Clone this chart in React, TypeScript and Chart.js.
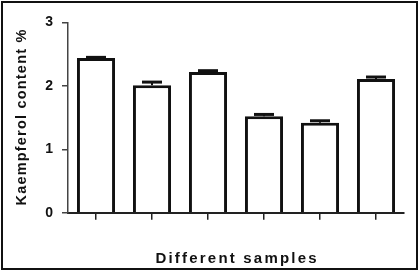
import React, { useEffect, useRef } from "react";
import { Chart, registerables } from "chart.js";

Chart.register(...registerables);

const categories = ["S1", "S2", "S3", "S4", "S5", "S6"];
const values = [2.44, 2.01, 2.22, 1.52, 1.42, 2.11];
const errors = [0.01, 0.05, 0.02, 0.03, 0.03, 0.03];
const yTicks = [0, 1, 2, 3];
const yTitle = "Kaempferol content %";
const xTitle = "Different samples";

const FONT = '"Liberation Sans", Arial, sans-serif';

export default function App() {
  const ref = useRef<HTMLCanvasElement | null>(null);

  useEffect(() => {
    if (!ref.current) return;
    const errorBars = {
      id: "errorBars",
      afterDatasetsDraw(chart: any) {
        const ctx = chart.ctx;
        const meta = chart.getDatasetMeta(0);
        const ys = chart.scales.y;
        ctx.save();
        ctx.strokeStyle = "#111";
        meta.data.forEach((bar: any, i: number) => {
          const yb = ys.getPixelForValue(values[i]);
          const yt = ys.getPixelForValue(values[i] + errors[i]);
          ctx.lineWidth = 2;
          ctx.beginPath();
          ctx.moveTo(bar.x, yb);
          ctx.lineTo(bar.x, yt);
          ctx.stroke();
          ctx.lineWidth = 3;
          ctx.beginPath();
          ctx.moveTo(bar.x - 10, yt);
          ctx.lineTo(bar.x + 10, yt);
          ctx.stroke();
        });
        ctx.restore();
      },
    };
    const decor = {
      id: "decor",
      afterDraw(chart: any) {
        const ctx = chart.ctx;
        const area = chart.chartArea;
        ctx.save();
        ctx.strokeStyle = "#111";
        ctx.lineWidth = 2;
        ctx.strokeRect(2, 2, 415, 267);
        ctx.fillStyle = "#111";
        // x title
        ctx.font = `bold 15px ${FONT}`;
        (ctx as any).letterSpacing = "2.2px";
        ctx.textAlign = "center";
        ctx.textBaseline = "alphabetic";
        ctx.fillText(xTitle, (area.left + area.right) / 2 + 1.1, 262.5);
        // y title
        ctx.font = `bold 14.5px ${FONT}`;
        (ctx as any).letterSpacing = "1.2px";
        ctx.translate(22, (area.top + area.bottom) / 2);
        ctx.rotate(-Math.PI / 2);
        ctx.textBaseline = "middle";
        ctx.fillText(yTitle, 0.6, 0);
        ctx.restore();
      },
    };
    const chart = new Chart(ref.current, {
      type: "bar",
      data: {
        labels: categories,
        datasets: [
          {
            data: values,
            backgroundColor: "#ffffff",
            borderColor: "#111",
            borderWidth: 3,
            barPercentage: 0.68,
            categoryPercentage: 1,
          },
        ],
      },
      options: {
        responsive: false,
        animation: false,
        devicePixelRatio: 1,
        layout: { padding: { left: 0, top: 22.5, right: 15, bottom: 0 } },
        plugins: { legend: { display: false }, tooltip: { enabled: false } },
        scales: {
          x: {
            grid: {
              offset: false,
              drawOnChartArea: false,
              drawTicks: true,
              tickLength: 7,
              color: "#222",
              lineWidth: 1.5,
            },
            border: { display: true, color: "#222", width: 2 },
            ticks: { display: false },
            afterFit: (s: any) => {
              s.height = 59.3;
            },
          },
          y: {
            min: 0,
            max: 3,
            afterBuildTicks: (s: any) => {
              s.ticks = yTicks.map((v) => ({ value: v }));
            },
            grid: {
              drawOnChartArea: false,
              drawTicks: true,
              tickLength: 6,
              color: "#444",
              lineWidth: 1.5,
            },
            border: { display: true, color: "#444", width: 1.5 },
            ticks: {
              color: "#111",
              padding: 9,
              font: { family: FONT, size: 14, weight: "bold" },
            },
            afterFit: (s: any) => {
              s.width = 68;
            },
          },
        },
      },
      plugins: [errorBars, decor],
    } as any);
    return () => chart.destroy();
  }, []);

  return (
    <div style={{ position: "absolute", left: 0, top: 0, width: 419, height: 272, background: "#fff" }}>
      <canvas ref={ref} width={419} height={272} />
    </div>
  );
}
